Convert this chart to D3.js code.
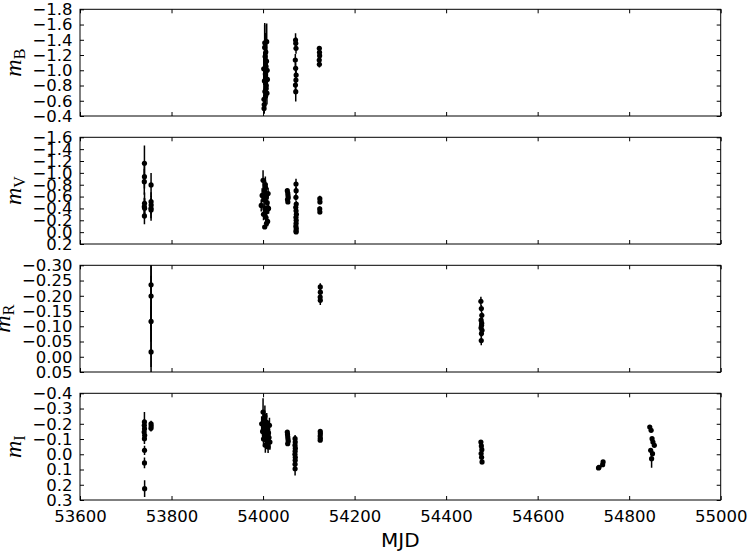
<!DOCTYPE html>
<html>
<head>
<meta charset="utf-8">
<script src="https://cdn.jsdelivr.net/npm/d3@7"></script>
<style>
  html, body { margin: 0; padding: 0; background: #fff; }
  svg { display: block; }
  text { font-family: "DejaVu Sans", sans-serif; fill: #000; }
</style>
</head>
<body>
<svg id="chart" width="749" height="551"></svg>
<script>
// ---------- data (MJD, magnitude, error) ----------
const xTicks = [53600, 53800, 54000, 54200, 54400, 54600, 54800, 55000];

const bandNames = ["B", "V", "R", "I"];
const yDomains = [[-1.8, -0.4], [-1.6, 0.2], [-0.30, 0.05], [-0.4, 0.3]];
const bTicks = [-1.8, -1.6, -1.4, -1.2, -1.0, -0.8, -0.6, -0.4];
const vTicks = [-1.6, -1.4, -1.2, -1.0, -0.8, -0.6, -0.4, -0.2, 0.0, 0.2];
const rTicks = [-0.30, -0.25, -0.20, -0.15, -0.10, -0.05, 0.00, 0.05];
const iTicks = [-0.4, -0.3, -0.2, -0.1, 0.0, 0.1, 0.2, 0.3];
const tickFormats = [".1f", ".1f", ".2f", ".1f"];

const mjdB = [54001.5, 54002, 54002.5, 54003, 54003.5, 54004, 54004.5, 54005, 54005.5, 54006,
              54006.5, 54007, 54007.5, 54008, 54008.5, 54009, 54009.5, 54003.7, 54002.2, 54006.8,
              54071, 54071.5, 54072, 54070.5, 54071.2, 54072.3, 54071.8, 54070.8, 54071.4,
              54123, 54123.3, 54123.6, 54122.8, 54123.1];
const magB = [-1.02, -0.62, -0.55, -0.86, -1.30, -0.72, -1.18, -0.95, -0.66, -1.24,
              -1.05, -0.80, -1.12, -1.375, -0.70, -1.00, -0.88, -1.36, -0.50, -0.76,
              -1.397, -1.354, -1.288, -1.135, -1.026, -0.938, -0.872, -0.806, -0.719,
              -1.288, -1.236, -1.191, -1.135, -1.078];
const errB = [0.22, 0.18, 0.12, 0.20, 0.30, 0.15, 0.20, 0.18, 0.14, 0.25,
              0.20, 0.16, 0.22, 0.24, 0.15, 0.15, 0.14, 0.26, 0.06, 0.12,
              0.09, 0.08, 0.07, 0.08, 0.07, 0.08, 0.09, 0.10, 0.13,
              0.015, 0.02, 0.02, 0.02, 0.04];

const mjdV = [53740.8, 53740.8, 53740.5, 53741, 53740.6, 53741.2, 53740.8,
              53755.3, 53755.3, 53755.5, 53755.1, 53755.3,
              53996, 53998, 54000, 54001, 54002, 54003, 54004, 54005, 54006, 54007, 54008, 54009,
              54010, 54011, 54012, 54003.5, 54005.5, 54007.5,
              54053, 54054, 54054.5, 54055, 54053.5, 54054.2,
              54072, 54072.3, 54071.8, 54072.5, 54071.5, 54072.1, 54072.8, 54071.9, 54072.4,
              54072.2, 54071.7, 54072.6, 54072, 54072.3,
              54124, 54124.3, 54123.8, 54124.1];
const magV = [-1.162, -0.936, -0.851, -0.487, -0.430, -0.403, -0.273,
              -0.796, -0.514, -0.458, -0.403, -0.374,
              -0.45, -0.62, -0.875, -0.30, -0.55, -0.70, -0.40, -0.80, -0.25, -0.60, -0.35, -0.50,
              -0.18, -0.65, -0.40, -0.087, -0.75, -0.15,
              -0.70, -0.66, -0.62, -0.58, -0.55, -0.51,
              -0.812, -0.70, -0.588, -0.475, -0.42, -0.36, -0.30, -0.25, -0.20,
              -0.15, -0.10, -0.06, -0.02, -0.003,
              -0.565, -0.509, -0.391, -0.34];
const errV = [0.30, 0.20, 0.22, 0.18, 0.15, 0.17, 0.14,
              0.20, 0.16, 0.15, 0.17, 0.18,
              0.10, 0.12, 0.17, 0.10, 0.12, 0.13, 0.11, 0.14, 0.10, 0.12, 0.10, 0.12,
              0.08, 0.10, 0.09, 0.03, 0.12, 0.07,
              0.03, 0.03, 0.03, 0.03, 0.03, 0.03,
              0.09, 0.06, 0.06, 0.05, 0.05, 0.05, 0.05, 0.05, 0.05,
              0.05, 0.05, 0.05, 0.04, 0.03,
              0.05, 0.04, 0.04, 0.04];

const mjdR = [53755.3, 53755.3, 53755.3, 53755.3,
              54125, 54125.2, 54124.8, 54125.1,
              54476, 54477, 54478, 54476.5, 54477.5, 54478.5, 54477.2, 54476.8, 54477.8, 54476.3];
const magR = [-0.236, -0.199, -0.116, -0.016,
              -0.229, -0.212, -0.196, -0.185,
              -0.182, -0.158, -0.136, -0.120, -0.103, -0.087, -0.076, -0.053, -0.110, -0.095];
const errR = [0.15, 0.15, 0.15, 0.15,
              0.012, 0.01, 0.01, 0.015,
              0.015, 0.012, 0.012, 0.012, 0.012, 0.012, 0.012, 0.015, 0.012, 0.012];

const mjdI = [53740.8, 53740.5, 53741, 53740.2, 53741.3, 53740.8, 53741, 53740.9, 53741.2,
              53755.3, 53755.5, 53755.1,
              53997, 53999, 54000, 54001, 54002, 54003, 54004, 54005, 54006, 54007, 54008, 54009,
              54010, 54011, 54012, 54013, 54014, 54015, 54002.5, 54004.5,
              54053, 54053.5, 54054, 54054.5, 54055, 54053.8,
              54070, 54070.3, 54069.8, 54070.5, 54070.1, 54069.7, 54070.4, 54070.2, 54069.9, 54070,
              54125, 54125.2, 54124.8, 54125.1, 54124.9,
              54476, 54477, 54478, 54476.5, 54477.5, 54478.5,
              54733, 54734, 54743, 54742,
              54845, 54848, 54850, 54852, 54855, 54847, 54851, 54849];
const magI = [-0.212, -0.19, -0.168, -0.146, -0.124, -0.102, -0.026, 0.057, 0.226,
              -0.20, -0.185, -0.17,
              -0.20, -0.15, -0.277, -0.10, -0.22, -0.13, -0.25, -0.06, -0.18, -0.12, -0.21, -0.09,
              -0.16, -0.048, -0.14, -0.11, -0.19, -0.08, -0.23, -0.17,
              -0.146, -0.13, -0.115, -0.10, -0.085, -0.069,
              -0.102, -0.08, -0.06, -0.04, -0.02, 0.0, 0.02, 0.04, 0.065, 0.095,
              -0.15, -0.135, -0.12, -0.105, -0.092,
              -0.08, -0.055, -0.03, -0.005, 0.02, 0.05,
              0.09, 0.085, 0.05, 0.068,
              -0.179, -0.157, -0.102, -0.08, -0.059, -0.026, -0.004, 0.029];
const errI = [0.065, 0.04, 0.04, 0.035, 0.035, 0.035, 0.03, 0.035, 0.055,
              0.02, 0.02, 0.02,
              0.05, 0.05, 0.09, 0.05, 0.06, 0.05, 0.07, 0.05, 0.06, 0.05, 0.06, 0.05,
              0.05, 0.04, 0.05, 0.05, 0.05, 0.05, 0.06, 0.05,
              0.01, 0.01, 0.01, 0.01, 0.01, 0.01,
              0.025, 0.025, 0.025, 0.025, 0.025, 0.025, 0.025, 0.025, 0.03, 0.045,
              0.01, 0.01, 0.01, 0.01, 0.01,
              0.01, 0.01, 0.01, 0.01, 0.01, 0.015,
              0.008, 0.008, 0.008, 0.008,
              0.01, 0.01, 0.01, 0.01, 0.01, 0.01, 0.01, 0.06];
</script>
<script>
const svg = d3.select("#chart");
const left = 80, right = 720.7;
const top0 = 9.3, panelH = 106.7, step = 128;

const x = d3.scaleLinear().domain([xTicks[0], xTicks[xTicks.length - 1]]).range([left, right]);

const datasets = [
  { mjd: mjdB, mag: magB, err: errB, ticks: bTicks },
  { mjd: mjdV, mag: magV, err: errV, ticks: vTicks },
  { mjd: mjdR, mag: magR, err: errR, ticks: rTicks },
  { mjd: mjdI, mag: magI, err: errI, ticks: iTicks }
];

datasets.forEach((ds, i) => {
  const t = top0 + i * step, b = t + panelH;
  const y = d3.scaleLinear().domain(yDomains[i]).range([t, b]);
  const g = svg.append("g");

  const clipId = "clip" + i;
  svg.append("clipPath").attr("id", clipId)
    .append("rect").attr("x", left).attr("y", t).attr("width", right - left).attr("height", panelH);

  const pts = ds.mag.map((m, k) => ({ x: ds.mjd[k], y: m, e: ds.err[k] }));

  const dataG = g.append("g").attr("clip-path", `url(#${clipId})`);
  dataG.selectAll("line.err").data(pts).enter().append("line")
    .attr("x1", d => x(d.x)).attr("x2", d => x(d.x))
    .attr("y1", d => y(d.y - d.e)).attr("y2", d => y(d.y + d.e))
    .attr("stroke", "#000").attr("stroke-width", 1.5);
  dataG.selectAll("circle").data(pts).enter().append("circle")
    .attr("cx", d => x(d.x)).attr("cy", d => y(d.y)).attr("r", 2.6)
    .attr("fill", "#000");

  const fmt = d3.format(tickFormats[i]);
  const tickLen = 4;

  const leftAxis = d3.axisLeft(y).tickValues(ds.ticks).tickSizeInner(-tickLen).tickSizeOuter(0)
    .tickPadding(3.5 + tickLen).tickFormat(v => fmt(Math.abs(v) < 1e-9 ? 0 : v));
  const la = g.append("g").attr("transform", `translate(${left},0)`).call(leftAxis);
  la.select(".domain").remove();
  la.selectAll("text").attr("font-size", "16.5px").attr("font-family", "DejaVu Sans, sans-serif");

  const rightAxis = d3.axisRight(y).tickValues(ds.ticks).tickSizeInner(-tickLen).tickSizeOuter(0).tickFormat("");
  const ra = g.append("g").attr("transform", `translate(${right},0)`).call(rightAxis);
  ra.select(".domain").remove();

  const topAxis = d3.axisTop(x).tickValues(xTicks).tickSizeInner(-tickLen).tickSizeOuter(0).tickFormat("");
  const ta = g.append("g").attr("transform", `translate(0,${t})`).call(topAxis);
  ta.select(".domain").remove();

  const bottomAxis = d3.axisBottom(x).tickValues(xTicks).tickSizeInner(-tickLen).tickSizeOuter(0)
    .tickPadding(6 + tickLen).tickFormat(i === 3 ? d3.format("d") : "");
  const ba = g.append("g").attr("transform", `translate(0,${b})`).call(bottomAxis);
  ba.select(".domain").remove();
  ba.selectAll("text").attr("font-size", "16.5px").attr("font-family", "DejaVu Sans, sans-serif");

  g.selectAll(".tick line").attr("stroke", "#000").attr("stroke-width", 1);

  g.append("rect").attr("x", left).attr("y", t).attr("width", right - left).attr("height", panelH)
    .attr("fill", "none").attr("stroke", "#000").attr("stroke-width", 1);

  // y label placed to the left of the widest tick label
  let minX = left;
  la.selectAll("text").each(function () {
    const bb = this.getBoundingClientRect();
    if (bb.left < minX) minX = bb.left;
  });
  const lx = minX - 11.5;
  const lbl = svg.append("text")
    .attr("transform", `translate(${lx},${(t + b) / 2}) rotate(-90)`)
    .attr("text-anchor", "middle")
    .style("font-family", "'Liberation Serif', serif")
    .attr("font-size", "24px");
  lbl.append("tspan").attr("font-style", "italic").text("m");
  lbl.append("tspan").attr("font-size", "16px").attr("dy", "4").text(bandNames[i]);
});

svg.append("text").attr("x", (left + right) / 2).attr("y", 546.7)
  .attr("text-anchor", "middle").attr("font-size", "20px").text("MJD");
</script>
</body>
</html>
